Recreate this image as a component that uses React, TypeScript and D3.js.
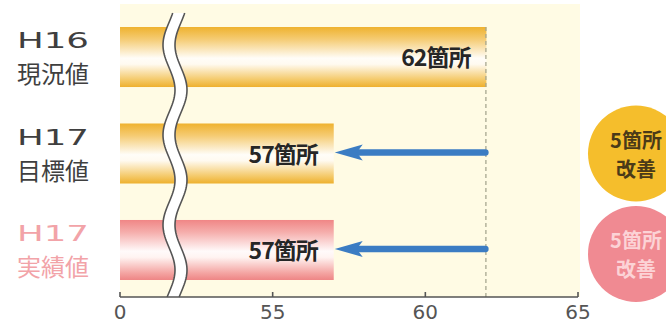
import React from "react";
import * as d3 from "d3";

const categories = ["H16現況値", "H17目標値", "H17実績値"];
const labelTop = ["H16", "H17", "H17"];
const labelBottom = ["現況値", "目標値", "実績値"];
const values = [62, 57, 57];
const valueLabels = ["62箇所", "57箇所", "57箇所"];
const tickValues = [50, 55, 60, 65];
const tickLabels = ["0", "55", "60", "65"];
const badgeLines = ["5箇所", "改善"];

const W = 666;
const H = 325;

export default function App() {
  const x = d3.scaleLinear().domain([50, 65]).range([120, 578]);
  const y = d3
    .scaleBand<string>()
    .domain(categories)
    .range([8, 299])
    .paddingInner(0.378)
    .paddingOuter(0.197);
  const bw = y.bandwidth();
  const axisY = 297;
  const baseVal = values[0];

  // decorative break wave
  const ys = d3.range(13, 298, 2);
  const wv = (v: number) => Math.cos((2 * Math.PI * (v - 45)) / 90);
  const waveL = d3.line<number>().x((v) => 169 - 6 * wv(v)).y((v) => v);
  const waveR = d3.line<number>().x((v) => 181 - 6 * wv(v)).y((v) => v);
  const area = d3
    .area<number>()
    .y((v) => v)
    .x0((v) => 169 - 6 * wv(v))
    .x1((v) => 181 - 6 * wv(v));

  const cjk = "'Noto Sans CJK JP', sans-serif";
  const textCol = "#3f3f3f";
  const pink = "#f2a3a8";

  return (
    <svg width={W} height={H} style={{ position: "absolute", left: 0, top: 0, background: "#fff" }}>
      <defs>
        <linearGradient id="gOr" x1="0" y1="0" x2="0" y2="1">
          <stop offset="0" stopColor="#efb22f" />
          <stop offset="0.2" stopColor="#f5cb72" />
          <stop offset="0.52" stopColor="#fffdf8" />
          <stop offset="0.62" stopColor="#fffaf0" />
          <stop offset="0.88" stopColor="#f4c968" />
          <stop offset="1" stopColor="#eeb02e" />
        </linearGradient>
        <linearGradient id="gPk" x1="0" y1="0" x2="0" y2="1">
          <stop offset="0" stopColor="#f08686" />
          <stop offset="0.2" stopColor="#f5adab" />
          <stop offset="0.52" stopColor="#fffafa" />
          <stop offset="0.62" stopColor="#fff4f2" />
          <stop offset="0.88" stopColor="#f4a5a3" />
          <stop offset="1" stopColor="#ee8585" />
        </linearGradient>
      </defs>
      <rect x={x(50)} y={4} width={x(65) - x(50) + 2} height={axisY - 4} fill="#fffbe4" />
      {categories.map((c, i) => (
        <rect
          key={c}
          x={x(50)}
          y={y(c)!}
          width={x(values[i]) - x(50)}
          height={bw}
          fill={i === 2 ? "url(#gPk)" : "url(#gOr)"}
        />
      ))}
      <line
        x1={x(baseVal) - 0.5}
        x2={x(baseVal) - 0.5}
        y1={y(categories[0])!}
        y2={axisY}
        stroke="#a8a890"
        strokeWidth={1.3}
        strokeDasharray="4 3"
      />
      {categories.map((c, i) => (
        <text
          key={"v" + c}
          x={x(values[i]) - 16}
          y={y(c)! + bw / 2 + 9}
          textAnchor="end"
          fontFamily={cjk}
          fontWeight={700}
          fontSize={23}
          fill="#262626"
          letterSpacing={-1}
        >
          {valueLabels[i]}
        </text>
      ))}
      {categories.slice(1).map((c, j) => {
        const i = j + 1;
        const cy = y(c)! + bw / 2 - 1;
        const x0 = x(baseVal) - 1;
        const tip = x(values[i]) + 1;
        return (
          <g key={"a" + c}>
            <line x1={x0} x2={tip + 24} y1={cy} y2={cy} stroke="#3b7cc3" strokeWidth={6.5} strokeLinecap="round" />
            <path d={`M${tip},${cy} L${tip + 28},${cy - 8} L${tip + 22},${cy} L${tip + 28},${cy + 8} Z`} fill="#3b7cc3" />
          </g>
        );
      })}
      <path d={area(ys)!} fill="#ffffff" />
      <path d={waveL(ys)!} fill="none" stroke="#555" strokeWidth={1.6} />
      <path d={waveR(ys)!} fill="none" stroke="#555" strokeWidth={1.6} />
      <line x1={x(50)} x2={x(65)} y1={axisY} y2={axisY} stroke="#555" strokeWidth={1.6} />
      {tickValues.map((t, i) => (
        <g key={"t" + t}>
          <line x1={x(t)} x2={x(t)} y1={axisY} y2={axisY - 5} stroke="#555" strokeWidth={1.6} />
          <text
            x={x(t)}
            y={axisY + 22}
            textAnchor="middle"
            fontFamily="'DejaVu Sans', sans-serif"
            fontSize={20}
            fill="#555"
          >
            {tickLabels[i]}
          </text>
        </g>
      ))}
      {categories.map((c, i) => {
        const cy = y(c)! + bw / 2;
        const col = i === 2 ? pink : textCol;
        return (
          <g key={"l" + c}>
            <text
              x={17}
              y={cy - 9}
              fontFamily="'DejaVu Sans', sans-serif"
              fontSize={21}
              fill={col}
              textLength={72}
              lengthAdjust="spacingAndGlyphs"
            >
              {labelTop[i]}
            </text>
            <text x={53} y={cy + 26} textAnchor="middle" fontFamily={cjk} fontSize={24} fill={col}>
              {labelBottom[i]}
            </text>
          </g>
        );
      })}
      {[1, 2].map((i) => {
        const cy = y(categories[i])! + bw / 2 + (i === 2 ? 4 : 0);
        const fill = i === 1 ? "#f5be2c" : "#f08a92";
        const tc = i === 1 ? "#4a3a18" : "#fcd3d6";
        return (
          <g key={"b" + i}>
            <circle cx={636} cy={cy} r={48} fill={fill} />
            <text x={636} y={cy - 6} textAnchor="middle" fontFamily={cjk} fontWeight={700} fontSize={20} fill={tc}>
              {badgeLines[0]}
            </text>
            <text x={636} y={cy + 23} textAnchor="middle" fontFamily={cjk} fontWeight={700} fontSize={20} fill={tc}>
              {badgeLines[1]}
            </text>
          </g>
        );
      })}
    </svg>
  );
}
